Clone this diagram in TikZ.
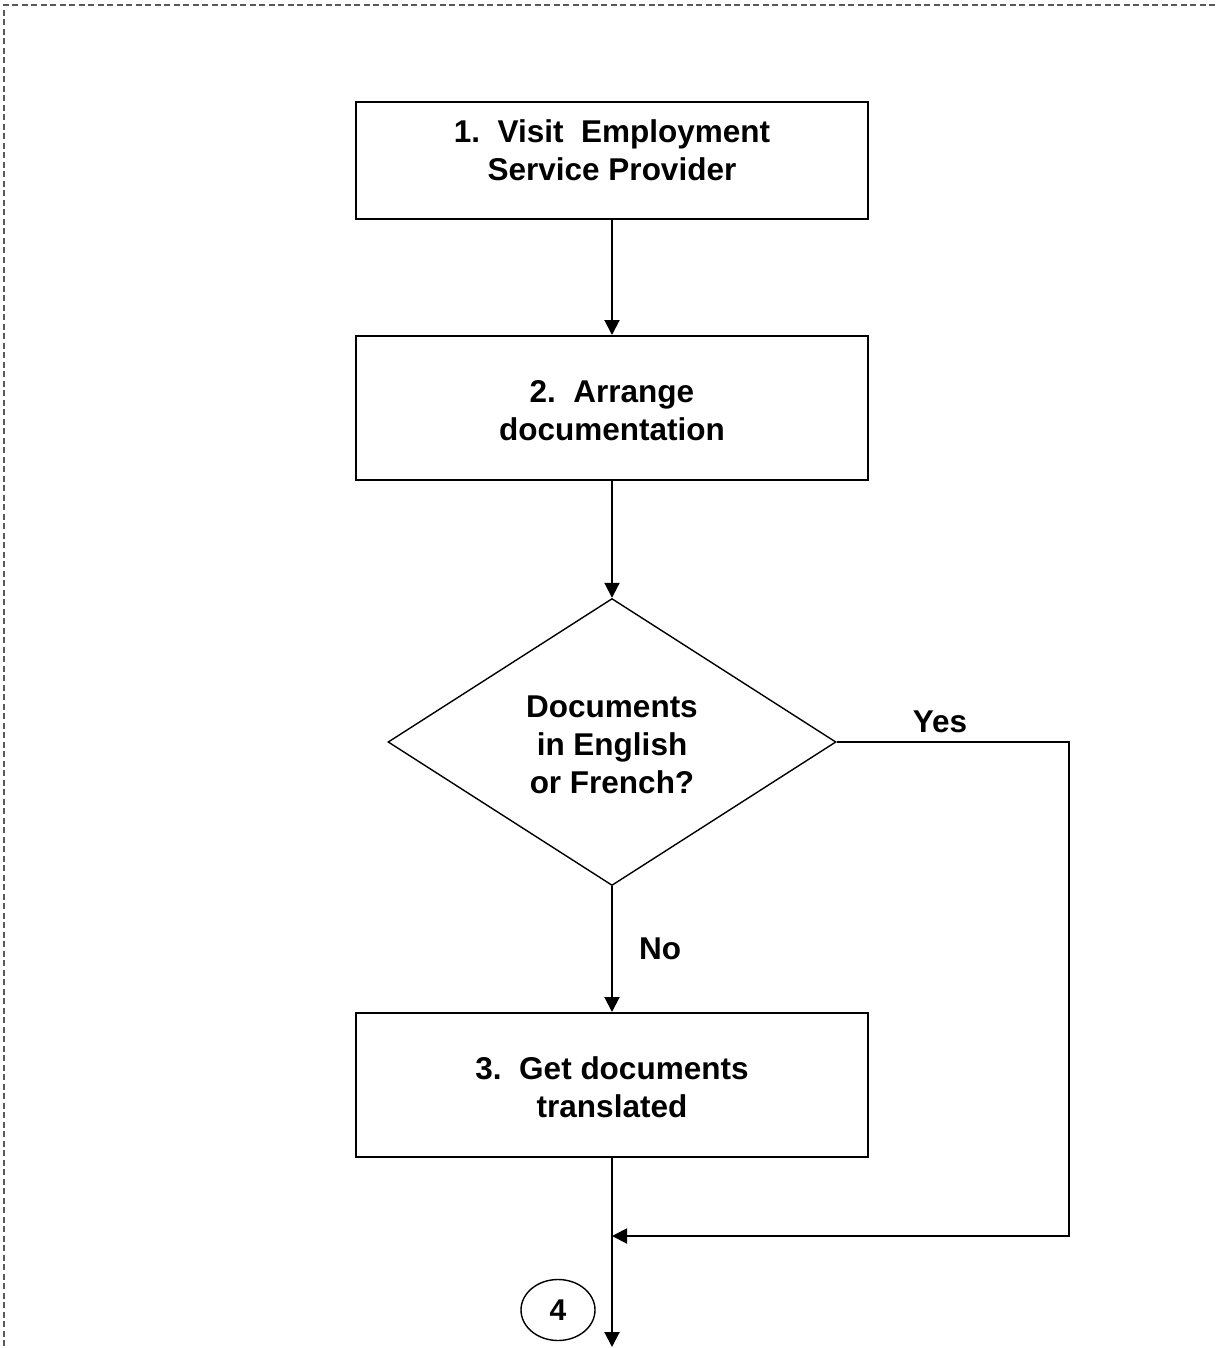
\documentclass[tikz,border=0pt]{standalone}
\usepackage{fontspec}
\setmainfont{Liberation Sans}
\usetikzlibrary{shapes.geometric,arrows.meta}
\begin{document}
\begin{tikzpicture}[x=1pt,y=-1pt,
  line width=2pt,
  boxstyle/.style={draw, rectangle, minimum width=512pt, minimum height=#1, inner sep=0pt},
  txt/.style={align=center, font=\fontsize{31.5}{38}\selectfont\bfseries, inner sep=0pt},
  arr/.style={-{Triangle[width=15pt,length=15pt]}}
]
\useasboundingbox (0,0) rectangle (1215,1348);
\draw[line width=1.5pt, color=black!65, dash pattern=on 6pt off 3.5pt] (1215,5) -- (4,5) -- (4,1348);

% boxes
\node[boxstyle=117pt] (b1) at (612,160.5) {};
\node[txt] (b1t) at (612,150) {1.\ \ Visit\ \ Employment\\Service Provider};
\node[boxstyle=144pt] (b2) at (612,408) {};
\node[txt] (b2t) at (612,411) {2.\ \ Arrange\\documentation};
\node[draw, diamond, minimum width=448pt, minimum height=287pt, inner sep=0pt, line width=1.4pt] (dia) at (612,742) {};
\node[txt] (diat) at (612,745) {Documents\\in English\\or French?};
\node[boxstyle=144pt] (b3) at (612,1085) {};
\node[txt] (b3t) at (612,1087) {3.\ \ Get documents\\translated};

\node[txt] (yes) at (940,722) {Yes};
\node[txt] (no) at (660,949) {No};

\node[draw, ellipse, minimum width=74pt, minimum height=61pt, inner sep=0pt, line width=1.4pt] (c4) at (558,1310) {};
\node[txt, font=\fontsize{30}{36}\selectfont\bfseries] (c4t) at (c4) {4};

\coordinate (ybot) at (1069,1236);
\coordinate (join) at (612,1236);
\coordinate (endp) at (612,1347);

% connectors
\draw[arr] (b1.south) -- (b2.north);
\draw[arr] (b2.south) -- (dia.north);
\draw[arr] (dia.south) -- (b3.north);
\draw[arr] (dia.east) -| (ybot) -- (join);
\draw[arr] (b3.south) -- (endp);
\end{tikzpicture}
\end{document}
